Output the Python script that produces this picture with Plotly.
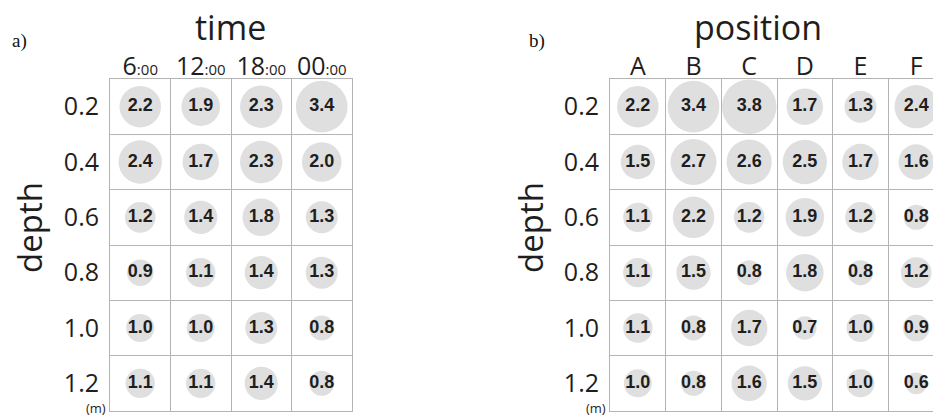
import plotly.graph_objects as go

# depth rows (top to bottom)
depths = ["0.2", "0.4", "0.6", "0.8", "1.0", "1.2"]

# panel a: time of day columns
times = ["6", "12", "18", "00"]
time_vals = [
    [2.2, 1.9, 2.3, 3.4],
    [2.4, 1.7, 2.3, 2.0],
    [1.2, 1.4, 1.8, 1.3],
    [0.9, 1.1, 1.4, 1.3],
    [1.0, 1.0, 1.3, 0.8],
    [1.1, 1.1, 1.4, 0.8],
]

# panel b: sampling position columns
positions = ["A", "B", "C", "D", "E", "F"]
pos_vals = [
    [2.2, 3.4, 3.8, 1.7, 1.3, 2.4],
    [1.5, 2.7, 2.6, 2.5, 1.7, 1.6],
    [1.1, 2.2, 1.2, 1.9, 1.2, 0.8],
    [1.1, 1.5, 0.8, 1.8, 0.8, 1.2],
    [1.1, 0.8, 1.7, 0.7, 1.0, 0.9],
    [1.0, 0.8, 1.6, 1.5, 1.0, 0.6],
]

W, H = 933, 417
LABEL_FONT = "Open Sans"
BUBBLE = "#d2d2d2"
GRID = "#b4b4b4"
INK = "#1e1e1e"


def bubble_trace(values, xa, ya):
    xs, ys, vs = [], [], []
    for r, row in enumerate(values):
        for c, v in enumerate(row):
            xs.append(c)
            ys.append(r)
            vs.append(v)
    return go.Scatter(
        x=xs, y=ys, xaxis=xa, yaxis=ya,
        mode="markers+text",
        text=[f"{v:.1f}" for v in vs],
        textposition="middle center",
        textfont=dict(family="Arial", size=18, color=INK, weight="bold"),
        # bubble area proportional to value
        marker=dict(size=vs, sizemode="area", sizeref=2 / 784,
                    color=BUBBLE, line=dict(width=0)),
        hoverinfo="skip", showlegend=False,
    )


fig = go.Figure()
fig.add_trace(bubble_trace(time_vals, "x", "y"))
fig.add_trace(bubble_trace(pos_vals, "x2", "y2"))

y_dom = [6 / H, 338 / H]


def x_axis(labels, dom, rng):
    return dict(
        domain=dom, range=rng, side="top",
        tickmode="array", tickvals=list(range(len(labels))), ticktext=labels,
        tickfont=dict(family=LABEL_FONT, size=25, color=INK),
        ticks="", ticklabelstandoff=-7, showgrid=False, zeroline=False,
        showline=True, mirror=True, linecolor=GRID, linewidth=1,
        minor=dict(tickmode="linear", tick0=0.5, dtick=1, showgrid=True,
                   gridcolor=GRID, gridwidth=1, ticks=""),
        fixedrange=True,
    )


def y_axis(dom, mirror):
    return dict(
        domain=dom, range=[len(depths) - 0.5, -0.5],
        tickmode="array", tickvals=list(range(len(depths))), ticktext=depths,
        tickfont=dict(family=LABEL_FONT, size=25, color=INK),
        ticks="", ticklabelstandoff=5,
        showgrid=False, zeroline=False,
        showline=True, mirror=mirror, linecolor=GRID, linewidth=1,
        minor=dict(tickmode="linear", tick0=0.5, dtick=1, showgrid=True,
                   gridcolor=GRID, gridwidth=1, ticks=""),
        fixedrange=True,
    )


time_text = [f"{t}<span style='font-size:15px'>:00</span>" for t in times]
xa = x_axis(time_text, [110 / W, 352 / W], [-0.5, len(times) - 0.5])
xa["anchor"] = "y"
xb = x_axis(positions, [610 / W, 1.0], [-0.5, -0.5 + 323 / 55.67])
xb["anchor"] = "y2"
ya = y_axis(y_dom, True)
ya["anchor"] = "x"
yb = y_axis(y_dom, False)
yb["anchor"] = "x2"

annotations = [
    dict(text="time", x=230 / W, y=1 - 27 / H, xref="paper", yref="paper",
         font=dict(family=LABEL_FONT, size=34, color=INK), showarrow=False,
         xanchor="center", yanchor="middle"),
    dict(text="position", x=758 / W, y=1 - 27 / H, xref="paper", yref="paper",
         font=dict(family=LABEL_FONT, size=34, color=INK), showarrow=False,
         xanchor="center", yanchor="middle"),
    dict(text="depth", x=29 / W, y=1 - 228 / H, xref="paper", yref="paper",
         textangle=-90, font=dict(family=LABEL_FONT, size=33, color=INK),
         showarrow=False, xanchor="center", yanchor="middle"),
    dict(text="depth", x=530 / W, y=1 - 228 / H, xref="paper", yref="paper",
         textangle=-90, font=dict(family=LABEL_FONT, size=33, color=INK),
         showarrow=False, xanchor="center", yanchor="middle"),
    dict(text="(m)", x=96 / W, y=1 - 408 / H, xref="paper", yref="paper",
         font=dict(family=LABEL_FONT, size=13, color=INK), showarrow=False,
         xanchor="center", yanchor="middle"),
    dict(text="(m)", x=596 / W, y=1 - 408 / H, xref="paper", yref="paper",
         font=dict(family=LABEL_FONT, size=13, color=INK), showarrow=False,
         xanchor="center", yanchor="middle"),
    dict(text="a)", x=10 / W, y=1 - 41 / H, xref="paper", yref="paper",
         font=dict(family="Liberation Serif", size=19, color="#111"),
         showarrow=False, xanchor="left", yanchor="middle"),
    dict(text="b)", x=527 / W, y=1 - 41 / H, xref="paper", yref="paper",
         font=dict(family="Liberation Serif", size=19, color="#111"),
         showarrow=False, xanchor="left", yanchor="middle"),
]

fig.update_layout(
    width=W, height=H,
    margin=dict(l=0, r=0, t=0, b=0),
    paper_bgcolor="white", plot_bgcolor="white",
    xaxis=xa, yaxis=ya, xaxis2=xb, yaxis2=yb,
    annotations=annotations,
)

fig.write_html("out.html", config={"displayModeBar": False})
